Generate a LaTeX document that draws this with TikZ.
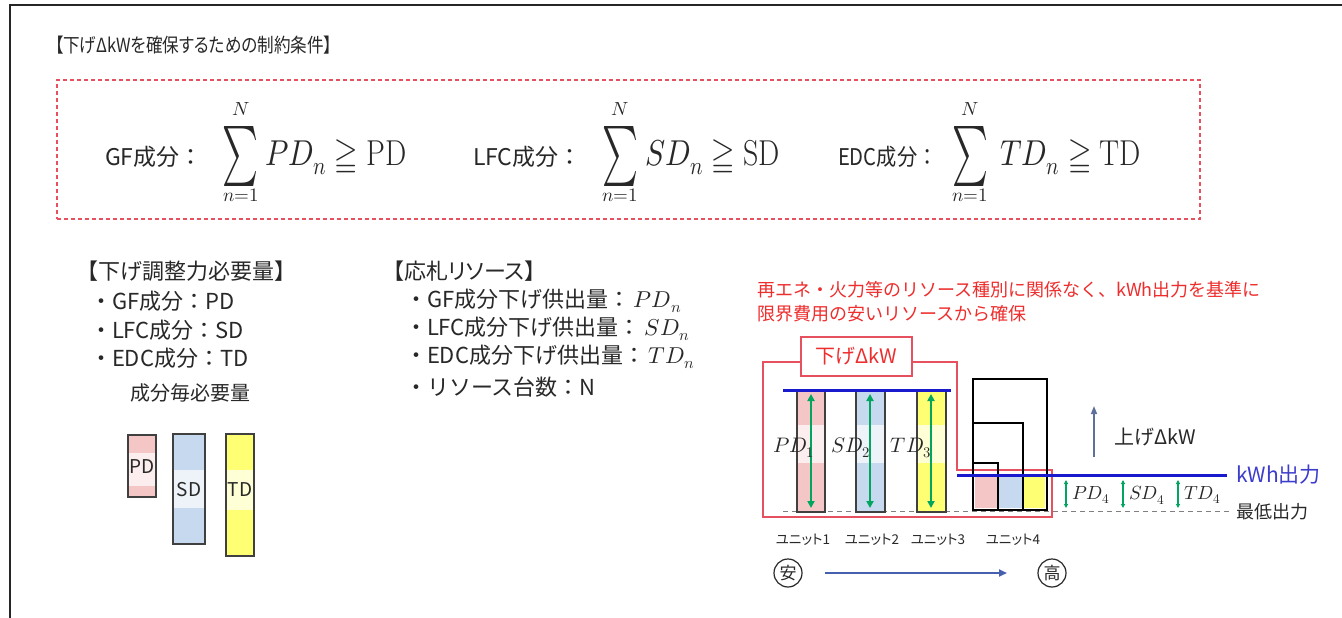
\documentclass[tikz,border=0pt]{standalone}
\usepackage{unicode-math}
\usepackage{graphicx}
\newfontfamily\jp{Noto Sans CJK JP}
\newfontfamily\jpp[RawFeature=+palt]{Noto Sans CJK JP}
\usetikzlibrary{arrows.meta}
\newcommand\fsz[1]{\fontsize{#1}{#1}\selectfont}
\definecolor{lred}{RGB}{230,80,95}
\definecolor{txtred}{RGB}{238,45,45}
\definecolor{pinkf}{RGB}{245,198,198}
\definecolor{bluef}{RGB}{198,217,238}
\definecolor{yelf}{RGB}{255,255,115}
\definecolor{dblue}{RGB}{25,25,205}
\definecolor{kwhblue}{RGB}{60,60,205}
\definecolor{grn}{RGB}{0,165,95}
\definecolor{slate}{RGB}{95,112,155}
\definecolor{arrblue}{RGB}{70,95,175}
\definecolor{txt}{RGB}{40,40,40}
\newcommand\colbar[7]{%
  \fill[#7] (#1,#2) rectangle (#3,#4);
  \fill[white,opacity=0.7] (#1,#5) rectangle (#3,#6);
  \draw[barline] (#1,#2) rectangle (#3,#4);}
\newcommand\bigsum{\resizebox*{36pt}{60pt}{$\sum$}}
\newcommand\tallm[1]{\scalebox{1}[1.2]{#1}}
\newcommand\narrow[2]{\scalebox{#1}[1]{#2}}
\begin{document}
\begin{tikzpicture}[x=1pt,y=-1pt,
  every node/.style={inner sep=0pt,outer sep=0pt,text=txt},
  jp/.style={font={\jp\fsz{#1}}},
  jpp/.style={font={\jpp\fsz{#1}}},
  mth/.style={font={\fsz{#1}}},
  barline/.style={draw=black!75,line width=1.1pt},
  redline/.style={draw=lred,line width=1.3pt},
  kwhline/.style={draw=dblue,line width=3pt},
  grnarr/.style={draw=grn,line width=1.8pt,{Triangle[length=7pt,width=7pt]}-{Triangle[length=7pt,width=7pt]}},
  smallarr/.style={draw=grn,line width=1.1pt,{Triangle[length=4pt,width=4pt]}-{Triangle[length=4pt,width=4pt]}},
]
\useasboundingbox (0,0) rectangle (1342,618);
\fill[white] (0,0) rectangle (1342,618);
% frame
\draw[line width=1.5pt,black!85] (10,618) -- (10,5) -- (1342,5);

% title
\node[jpp=19.5,anchor=west] (title) at (55,45) {\narrow{0.85}{【下げΔkWを確保するための制約条件】}};

% dashed constraint box
\node[draw=lred,line width=1.3pt,dash pattern=on 4pt off 3pt,minimum width=1143pt,minimum height=139pt,anchor=north west] (cbox) at (57,80) {};

% formulas
\node[jp=23,anchor=west] (gf) at (105,157) {GF成分：};
\node (sum1) at (241,156) {\bigsum};
\node[mth=19] (N1) at (241,109) {$N$};
\node[mth=19] (lo1) at (241,195) {$n{=}1$};
\node[mth=30,anchor=west] (eq1) at (265,157) {\tallm{$PD_n \geqq \mathrm{PD}$}};

\node[jp=23,anchor=west] (lfc) at (473,157) {LFC成分：};
\node (sum2) at (620,156) {\bigsum};
\node[mth=19] (N2) at (620,109) {$N$};
\node[mth=19] (lo2) at (620,195) {$n{=}1$};
\node[mth=30,anchor=west] (eq2) at (645,157) {\tallm{$SD_n \geqq \mathrm{SD}$}};

\node[jp=23,anchor=west] (edc) at (838,157) {\narrow{0.88}{EDC成分：}};
\node (sum3) at (970,156) {\bigsum};
\node[mth=19] (N3) at (970,109) {$N$};
\node[mth=19] (lo3) at (970,195) {$n{=}1$};
\node[mth=30,anchor=west] (eq3) at (1000,157) {\tallm{$TD_n \geqq \mathrm{TD}$}};

% left block
\node[jp=22,anchor=west] (reqh) at (76,271) {【下げ調整力必要量】};
\node[jp=22,anchor=west] (req1) at (90,301) {・GF成分：PD};
\node[jp=22,anchor=west] (req2) at (90,330) {・LFC成分：SD};
\node[jp=22,anchor=west] (req3) at (90,358) {・EDC成分：TD};
\node[jp=20,anchor=west] (reqs) at (130,393) {成分毎必要量};

\colbar{128}{435}{156}{497}{453}{486}{pinkf}
\colbar{173}{434}{205}{544}{470}{508}{bluef}
\colbar{226}{434}{254}{556}{470}{510}{yelf}
\node[jp=19] (pdl) at (142,467) {PD};
\node[jp=19] (sdl) at (189,490) {SD};
\node[jp=19] (tdl) at (240,490) {TD};

% middle block
\node[jpp=22,anchor=west] (resh) at (393,271) {【応札リソース】};
\node[jp=22,anchor=west] (res1) at (405,301) {・GF成分下げ供出量：\,\fsz{23}$PD_n$};
\node[jp=22,anchor=west] (res2) at (405,329) {・LFC成分下げ供出量：\,\fsz{23}$SD_n$};
\node[jp=22,anchor=west] (res3) at (405,357) {・EDC成分下げ供出量：\,\fsz{23}$TD_n$};
\node[jp=22,anchor=west] (res4) at (405,387) {・リソース台数：N};

% right: note
\node[jp=18,text=txtred,anchor=west] (note1) at (757,290) {再エネ・火力等のリソース種別に関係なく、kWh出力を基準に};
\node[jp=18,text=txtred,anchor=west] (note2) at (757,314) {限界費用の安いリソースから確保};

% red outline of down-dkW
\draw[redline] (801,362) -- (763,362) -- (763,517) -- (1052,517) -- (1052,470) -- (957,470) -- (957,362) -- (912,362);
\node[draw=lred,line width=1.3pt,fill=white,minimum width=111pt,minimum height=39pt,jp=20,text=txtred] (dkw) at (856.5,356.5) {下げΔkW};

% minimum output dashed line
\draw[black!50,line width=1pt,dash pattern=on 5pt off 4pt] (783,511) -- (1230,511);

% unit bars 1-3
\colbar{797}{390}{825}{512}{425}{463}{pinkf}
\colbar{856}{390}{885}{512}{425}{463}{bluef}
\colbar{917}{390}{946}{512}{425}{463}{yelf}

% unit 4
\fill[pinkf] (975,476) rectangle (998,508);
\fill[bluef] (998,476) rectangle (1023,508);
\fill[yelf] (1023,476) rectangle (1045,508);
\draw[black,line width=1.2pt] (973,510) -- (973,463) -- (998,463) -- (998,510);
\draw[black,line width=1.2pt] (973,423) -- (1023,423) -- (1023,510);
\draw[black,line width=2.6pt] (973,379) rectangle (1047,510);

% kWh lines
\draw[kwhline] (783,390) -- (951,390);
\draw[kwhline] (957,475) -- (1227,475);

% green arrows units 1-3
\coordinate (a1t) at (811,394); \coordinate (a1b) at (811,508);
\coordinate (a2t) at (870,394); \coordinate (a2b) at (870,508);
\coordinate (a3t) at (931,394); \coordinate (a3b) at (931,508);
\draw[grnarr] (a1t) -- (a1b);
\draw[grnarr] (a2t) -- (a2b);
\draw[grnarr] (a3t) -- (a3b);
\node[mth=21] (pd1) at (794,448) {$PD_1$};
\node[mth=21] (sd2) at (851,448) {$SD_2$};
\node[mth=21] (td3) at (911,448) {$TD_3$};

% unit 4 small arrows
\coordinate (b1t) at (1066,480); \coordinate (b1b) at (1066,508);
\coordinate (b2t) at (1123,480); \coordinate (b2b) at (1123,508);
\coordinate (b3t) at (1178,480); \coordinate (b3b) at (1178,508);
\draw[smallarr] (b1t) -- (b1b);
\draw[smallarr] (b2t) -- (b2b);
\draw[smallarr] (b3t) -- (b3b);
\node[mth=19,anchor=west] (pd4) at (1072,495) {$PD_4$};
\node[mth=19,anchor=west] (sd4) at (1129,495) {$SD_4$};
\node[mth=19,anchor=west] (td4) at (1184,495) {$TD_4$};

% up dkW
\coordinate (upA) at (1094,457); \coordinate (upB) at (1094,406);
\draw[slate,line width=1.5pt,-{Triangle[length=8pt,width=6pt]}] (upA) -- (upB);
\node[jp=20,anchor=west] (updkw) at (1114,437) {上げΔkW};

\node[jp=21,text=kwhblue,anchor=west] (kwh) at (1236,475) {kWh出力};
\node[jp=18,anchor=west] (minout) at (1236,512) {最低出力};

% unit labels
\node[jpp=13.5] (u1) at (803,540) {ユニット1};
\node[jpp=13.5] (u2) at (872,540) {ユニット2};
\node[jpp=13.5] (u3) at (938,540) {ユニット3};
\node[jpp=13.5] (u4) at (1013,540) {ユニット4};

% cheap -> expensive
\node[circle,draw=txt,line width=1.2pt,minimum size=28pt,jp=17] (cheap) at (788,573) {安};
\node[circle,draw=txt,line width=1.2pt,minimum size=28pt,jp=17] (dear) at (1052,573) {高};
\draw[arrblue,line width=2pt,-{Triangle[length=8pt,width=7pt]},shorten <=23pt,shorten >=31pt] (cheap) -- (dear);
\end{tikzpicture}
\end{document}
